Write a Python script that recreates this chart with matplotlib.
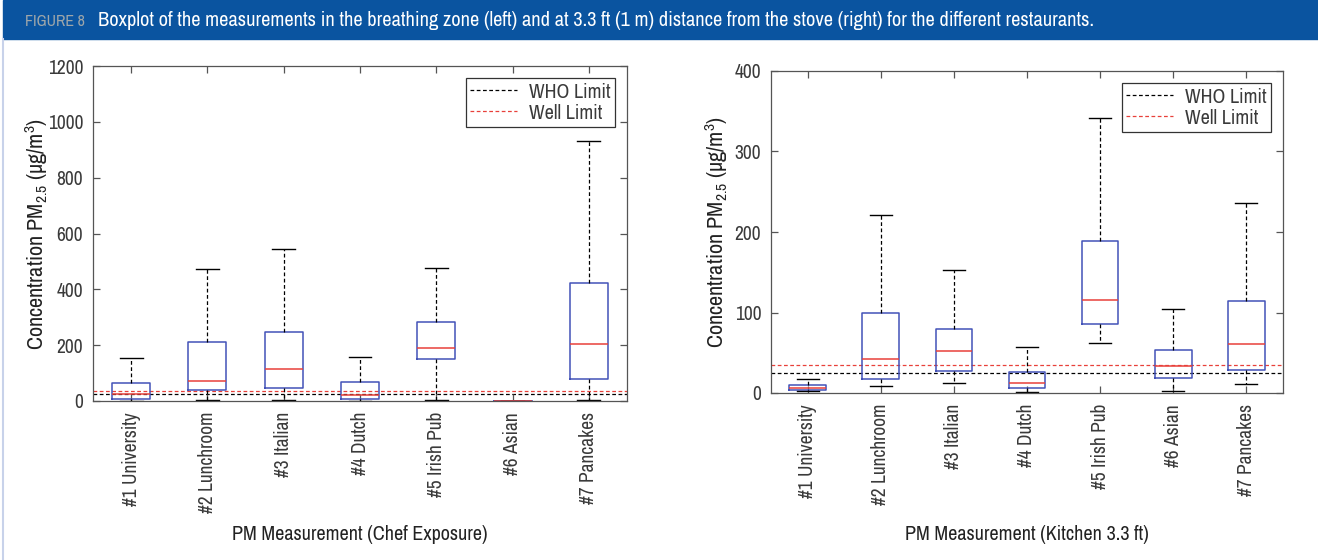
import matplotlib
matplotlib.use("Agg")
import matplotlib.pyplot as plt
from matplotlib import font_manager
from matplotlib.lines import Line2D
from matplotlib.patches import Rectangle

# the reference uses a condensed face; take one if the machine has it
narrow = sorted({f.name for f in font_manager.fontManager.ttflist
                 if "Narrow" in f.name or "Condensed" in f.name})
FONT = narrow[:1] + ["Liberation Sans", "DejaVu Sans"]
plt.rcParams["font.family"] = FONT
plt.rcParams["mathtext.fontset"] = "custom"
plt.rcParams["mathtext.rm"] = FONT[0]
plt.rcParams["mathtext.it"] = FONT[0]

BLUE = "#4352b8"
RED = "#e8403a"
HEADER = "#0a54a0"
TXT = "#3a3a3a"

categories = ["#1 University", "#2 Lunchroom", "#3 Italian", "#4 Dutch",
              "#5 Irish Pub", "#6 Asian", "#7 Pancakes"]

# chef exposure (breathing zone), ug/m3
chef_whislo = [0, 2, 2, 0, 2, 0, 2]
chef_q1 = [7, 39, 47, 7, 150, 0, 79]
chef_med = [25, 72, 115, 22, 190, 0, 204]
chef_q3 = [64, 211, 247, 68, 283, 0, 422]
chef_whishi = [154, 472, 544, 158, 476, 0, 931]

# kitchen, 3.3 ft from the stove
kitchen_whislo = [2, 9, 13, 1, 62, 2, 11]
kitchen_q1 = [4, 18, 27, 6, 86, 19, 28]
kitchen_med = [6, 42, 52, 12, 115, 34, 61]
kitchen_q3 = [10, 100, 79, 26, 189, 53, 114]
kitchen_whishi = [17, 221, 153, 57, 342, 104, 236]

WHO_LIMIT = 25
WELL_LIMIT = 35

W, H = 1318, 560


def fit_width(fig, txt, target_px):
    # shrink/grow a text so its rendered width matches target_px
    r = fig.canvas.get_renderer()
    w = txt.get_window_extent(r).width
    txt.set_fontsize(txt.get_fontsize() * target_px / w)


def draw_panel(ax, lo, q1, med, q3, hi, ymax, step, xlabel, xlab_y, ylab_x):
    stats = [dict(whislo=a, q1=b, med=c, q3=d, whishi=e, fliers=[])
             for a, b, c, d, e in zip(lo, q1, med, q3, hi)]
    ax.axhline(WHO_LIMIT, color="black", ls=(0, (3, 2)), lw=0.9, zorder=1)
    ax.axhline(WELL_LIMIT, color=RED, ls=(0, (3, 2)), lw=0.9, zorder=1)
    ax.bxp(stats, positions=range(1, len(categories) + 1), widths=0.5,
           capwidths=0.3, showfliers=False,
           boxprops=dict(color=BLUE, lw=1.1),
           medianprops=dict(color=RED, lw=1.1),
           whiskerprops=dict(color="black", ls=(0, (3, 2)), lw=0.9),
           capprops=dict(color="black", lw=1.0))

    ax.set_xlim(0.5, len(categories) + 0.5)
    ax.set_ylim(0, ymax)
    ax.set_yticks(range(0, ymax + 1, step))
    ax.set_xticks(range(1, len(categories) + 1))
    ax.set_xticklabels(categories, rotation=90, fontsize=14, color=TXT)
    ax.tick_params(axis="y", labelsize=14, labelcolor=TXT, pad=7)
    ax.tick_params(axis="x", pad=8)
    ax.tick_params(direction="in", top=True, right=True, length=5,
                   color="#555555", width=0.9)
    for s in ax.spines.values():
        s.set_color("#555555")
        s.set_linewidth(0.9)

    ax.set_ylabel(r"Concentration PM$_{2.5}$ (μg/m$^3$)", fontsize=16,
                  color="#222222")
    ax.yaxis.set_label_coords(ylab_x, 0.5)
    ax.yaxis.label.set_va("center")
    ax.set_xlabel(xlabel, fontsize=14.5, color="#222222")
    ax.xaxis.set_label_coords(0.5, xlab_y)
    ax.xaxis.label.set_va("center")

    handles = [Line2D([], [], color="black", ls=(0, (3, 2)), lw=0.9),
               Line2D([], [], color=RED, ls=(0, (3, 2)), lw=0.9)]
    leg = ax.legend(handles, ["WHO Limit", "Well Limit"], loc="upper right",
                    fancybox=False, edgecolor="#333333", framealpha=1,
                    fontsize=14.5, handlelength=2.3, borderaxespad=0.62,
                    handletextpad=0.6, borderpad=0.2, labelspacing=0.1)
    leg.get_frame().set_linewidth(0.9)
    for t in leg.get_texts():
        t.set_color(TXT)


fig = plt.figure(figsize=(W / 100, H / 100), dpi=100)

# header band
fig.patches.append(Rectangle((3 / W, 1 - 39 / H), 1, 39 / H,
                             transform=fig.transFigure, color=HEADER, zorder=0))
tag = fig.text(25 / W, 1 - 21 / H, "FIGURE 8", color="#9ea6aa",
               fontsize=10, va="center", ha="left")
title = fig.text(98 / W, 1 - 21 / H,
                 "Boxplot of the measurements in the breathing zone (left) and at "
                 "3.3 ft (1 m) distance from the stove (right) for the different "
                 "restaurants.",
                 color="white", fontsize=13, va="center", ha="left")
fig.lines.append(Line2D([3 / W, 3 / W], [0, 1 - 39 / H],
                        transform=fig.transFigure, color="#c8d2ea", lw=1.5))

ax1 = fig.add_axes([93 / W, 1 - 401 / H, 534 / W, 335 / H])
draw_panel(ax1, chef_whislo, chef_q1, chef_med, chef_q3, chef_whishi,
           1200, 200, "PM Measurement (Chef Exposure)",
           -(535 - 401) / 335, (37 - 93) / 534)

ax2 = fig.add_axes([771 / W, 1 - 393 / H, 512 / W, 322 / H])
draw_panel(ax2, kitchen_whislo, kitchen_q1, kitchen_med, kitchen_q3,
           kitchen_whishi, 400, 100, "PM Measurement (Kitchen 3.3 ft)",
           -(534 - 393) / 322, (717 - 771) / 512)

fit_width(fig, tag, 60)
fit_width(fig, title, 999)

fig.savefig("out.png", dpi=100)
